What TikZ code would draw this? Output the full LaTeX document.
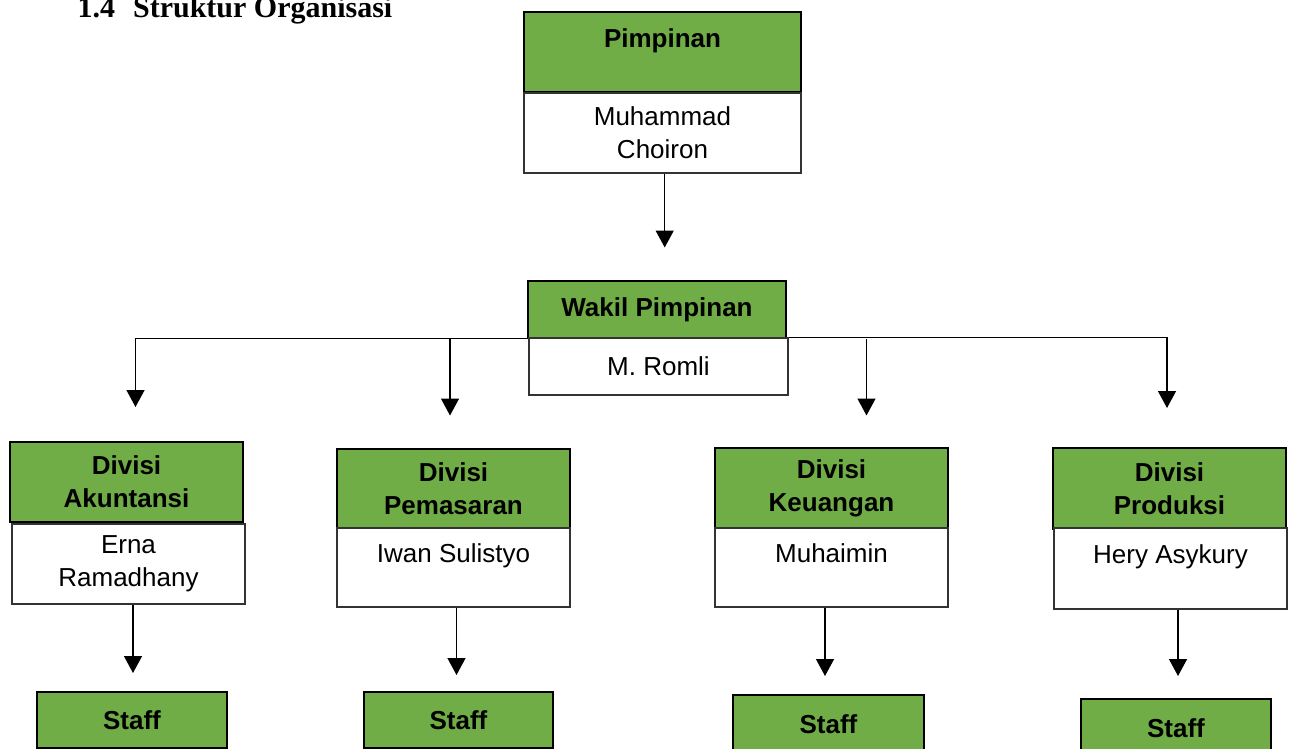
\documentclass[tikz,border=0pt]{standalone}
\usepackage{fontspec}
\setmainfont{Liberation Serif}
\setsansfont{Liberation Sans}
\usepackage{tikz}
\definecolor{officegreen}{HTML}{70AD47}
\usetikzlibrary{positioning, arrows.meta, shapes}
\tikzstyle{arrow} = [line width=1.4pt,-{Triangle[length=17pt,width=18pt]}]

\begin{document}
\begin{tikzpicture}[x=1pt,y=-1pt]
                    \tikzstyle{every node}=[font=\sffamily\fontsize{26}{33}\selectfont, align=center, inner sep=0pt, line width=1.2pt]
                    \tikzstyle{head} = [rectangle, draw=black, fill=officegreen, font=\sffamily\bfseries\fontsize{26}{33}\selectfont]
                    \tikzstyle{body} = [rectangle, draw=black!80, fill=white]
                    \tikzstyle{divhead} = [head, minimum width=233pt, minimum height=80pt]
                    \tikzstyle{divbody} = [body, minimum width=233pt, minimum height=80pt]
                    \tikzstyle{staffbox} = [head, minimum width=190pt, minimum height=56pt]

                    \useasboundingbox (0,0) rectangle (1290,749);

                    \node[anchor=base west, font=\rmfamily\bfseries\fontsize{30}{36}\selectfont] (judul) at (77,18) {1.4\hspace{0.6em}Struktur Organisasi};

                    % pimpinan
                    \node[head, minimum width=277pt, minimum height=80pt] (pim) at (662.5,52) {Pimpinan\\[-6pt]~};
                    \node[body, minimum width=277pt, minimum height=80pt] (pimname) at (662.5,133) {Muhammad\\Choiron};
                    \node[head, minimum width=258pt, minimum height=57pt] (wak) at (657,309.5) {Wakil Pimpinan};
                    \node[body, minimum width=259pt, minimum height=57pt] (wakname) at (658.5,366.5) {M. Romli};

                    % divisi
                    \node[divhead](div1) at (126.5,482) {Divisi\\Akuntansi};
                    \node[divbody](div1name) at (128.5,564) {Erna\\Ramadhany};
                    \node[staffbox](staff1) at (132,720) {Staff};

                    \node[divhead](div2) at (453.5,489) {Divisi\\Pemasaran};
                    \node[divbody, minimum height=79pt](div2name) at (453.5,567.5) {Iwan Sulistyo\\[-4pt]~};
                    \node[staffbox, minimum width=189pt](staff2) at (458.5,720) {Staff};

                    \node[divhead, minimum height=81pt](div3) at (831.5,488.5) {Divisi\\Keuangan};
                    \node[divbody, minimum height=79pt](div3name) at (831.5,567.5) {Muhaimin\\[-4pt]~};
                    \node[staffbox, minimum width=191pt, minimum height=58pt](staff3) at (828.5,724) {Staff};

                    \node[divhead, minimum height=81pt](div4) at (1169.5,488.5) {Divisi\\Produksi};
                    \node[divbody, minimum height=81pt](div4name) at (1170.5,568.5) {Hery Asykury\\[-4pt]~};
                    \node[staffbox, minimum height=58pt](staff4) at (1176,728) {Staff};

                    % ujung panah
                    \coordinate (t0) at (664.7,247.5);
                    \coordinate (t1) at (135.5,407);
                    \coordinate (t2) at (450,415.5);
                    \coordinate (t3) at (866.5,415.5);
                    \coordinate (t4) at (1167,408);
                    \coordinate (s1) at (133,673);
                    \coordinate (s2) at (456.5,675);
                    \coordinate (s3) at (825,676);
                    \coordinate (s4) at (1178,676);

                    \draw[arrow] (t0 |- pimname.south) -- (t0);
                    \draw[arrow] (wak.south west) -| (t1);
                    \draw[arrow] (wakname.north east) -| (t4);
                    \draw[arrow] (t2 |- wak.south) -- (t2);
                    \draw[arrow] (t3 |- wak.south) -- (t3);
                    \draw[arrow] (s1 |- div1name.south) -- (s1);
                    \draw[arrow] (s2 |- div2name.south) -- (s2);
                    \draw[arrow] (s3 |- div3name.south) -- (s3);
                    \draw[arrow] (s4 |- div4name.south) -- (s4);

            \end{tikzpicture}
\end{document}
